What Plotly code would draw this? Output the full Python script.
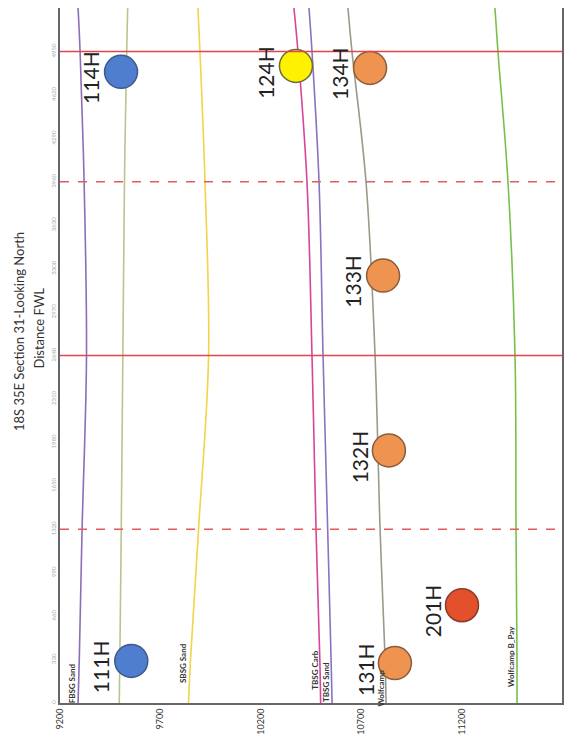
import plotly.graph_objects as go

# ---- data ----
distance_stations = [0, 330, 1320, 2640, 3960, 4950, 5280]  # ft from FWL

fbsg_sand = [9290, 9296, 9310, 9332, 9320, 9300, 9290]
upper_marker = [9495, 9498, 9505, 9513, 9521, 9532, 9537]
sbsg_sand = [9840, 9850, 9890, 9940, 9922, 9897, 9887]
tbsg_carb = [10498, 10494, 10475, 10455, 10430, 10385, 10365]
tbsg_sand = [10555, 10550, 10533, 10510, 10490, 10455, 10440]
wolfcamp = [10824, 10819, 10794, 10769, 10724, 10654, 10634]
wolfcamp_b_pay = [11476, 11476, 11471, 11466, 11431, 11381, 11366]

horizon_names = ["FBSG Sand", "", "SBSG Sand", "TBSG Carb", "TBSG Sand", "Wolfcamp", "Wolfcamp B_Pay"]
horizon_label_dist = [150, 0, 300, 250, 160, 110, 350]

well_names = ["111H", "114H", "124H", "134H", "133H", "132H", "131H", "201H"]
well_depth = [9555, 9504, 10375, 10744, 10809, 10838, 10868, 11202]
well_distance = [320, 4795, 4840, 4825, 3247, 1919, 303, 743]

section_lines_solid = [2640, 4950]
section_lines_dashed = [1320, 3960]

depth_ticks = [9200, 9700, 10200, 10700, 11200]
distance_ticks = [0, 330, 660, 990, 1320, 1650, 1980, 2310, 2640, 2970, 3300,
                  3630, 3960, 4290, 4620, 4950, 5280]

# ---- styles ----
horizon_series = [fbsg_sand, upper_marker, sbsg_sand, tbsg_carb, tbsg_sand, wolfcamp, wolfcamp_b_pay]
horizon_colors = ["#8A6FB8", "#B9C48E", "#F3D347", "#D8449A", "#8A72C0", "#9A9A8A", "#78C04E"]
well_colors = ["#4F7ECF", "#4F7ECF", "#FFF200", "#EE9450", "#EE9450", "#EE9450", "#EE9450", "#E2502C"]
well_edge = ["#3E5A8C", "#3E5A8C", "#6A6A40", "#8A5C3C", "#8A5C3C", "#8A5C3C", "#8A5C3C", "#8A3C2C"]
FONT = "Lato, Open Sans, sans-serif"

fig = go.Figure()

for series, color in zip(horizon_series, horizon_colors):
    fig.add_trace(go.Scatter(
        x=series, y=distance_stations, mode="lines",
        line=dict(color=color, width=1.6, shape="spline"),
        hoverinfo="skip", showlegend=False))

for d in section_lines_solid:
    fig.add_hline(y=d, line=dict(color="#E0474C", width=1.6))
for d in section_lines_dashed:
    fig.add_hline(y=d, line=dict(color="#E85A5A", width=1.4, dash="dash"))

fig.add_trace(go.Scatter(
    x=well_depth, y=well_distance, mode="markers",
    marker=dict(size=33, color=well_colors, line=dict(color=well_edge, width=1.5)),
    hoverinfo="skip", showlegend=False))

for name, dep, dist in zip(well_names, well_depth, well_distance):
    fig.add_annotation(x=dep, y=dist, text=name, showarrow=False, textangle=-90,
                       xanchor="center", yanchor="middle",
                       xshift=-30, yshift=-6,
                       font=dict(family=FONT, size=21, color="#222222"))

for name, series, dist in zip(horizon_names, horizon_series, horizon_label_dist):
    if not name:
        continue
    fig.add_annotation(x=series[0], y=dist, text="<b>" + name + "</b>", showarrow=False,
                       textangle=-90, xanchor="center", yanchor="middle", xshift=-6,
                       font=dict(family=FONT, size=8, color="#333333"))

fig.add_annotation(xref="paper", yref="paper", x=-0.082, y=0.535,
                   xanchor="center", yanchor="middle",
                   text="18S 35E Section 31-Looking North", showarrow=False, textangle=-90,
                   font=dict(family=FONT, size=13, color="#333333"))
fig.add_annotation(xref="paper", yref="paper", x=-0.042, y=0.54,
                   xanchor="center", yanchor="middle",
                   text="Distance FWL", showarrow=False, textangle=-90,
                   font=dict(family=FONT, size=13, color="#333333"))

fig.update_xaxes(range=[9200, 11700], tickvals=depth_ticks,
                 ticktext=[str(t) for t in depth_ticks], tickangle=-90, automargin=False,
                 showgrid=False, zeroline=False, showline=True, linecolor="#666666",
                 linewidth=2, mirror=True, ticks="",
                 tickfont=dict(family=FONT, size=9, color="#333333"))
fig.update_yaxes(range=[0, 5280], tickvals=distance_ticks,
                 ticktext=[str(t) for t in distance_ticks], tickangle=-90, automargin=False,
                 showgrid=False, zeroline=False, showline=True, linecolor="#666666",
                 linewidth=2, mirror=True, ticks="",
                 tickfont=dict(family=FONT, size=6, color="#AAAAAA"))

# page body has an 8px default margin, so the figure is sized to fit inside it
fig.update_layout(width=564, height=736, margin=dict(l=52, r=10, t=0, b=41, autoexpand=False),
                  plot_bgcolor="white", paper_bgcolor="white")

fig.write_html("out.html")
